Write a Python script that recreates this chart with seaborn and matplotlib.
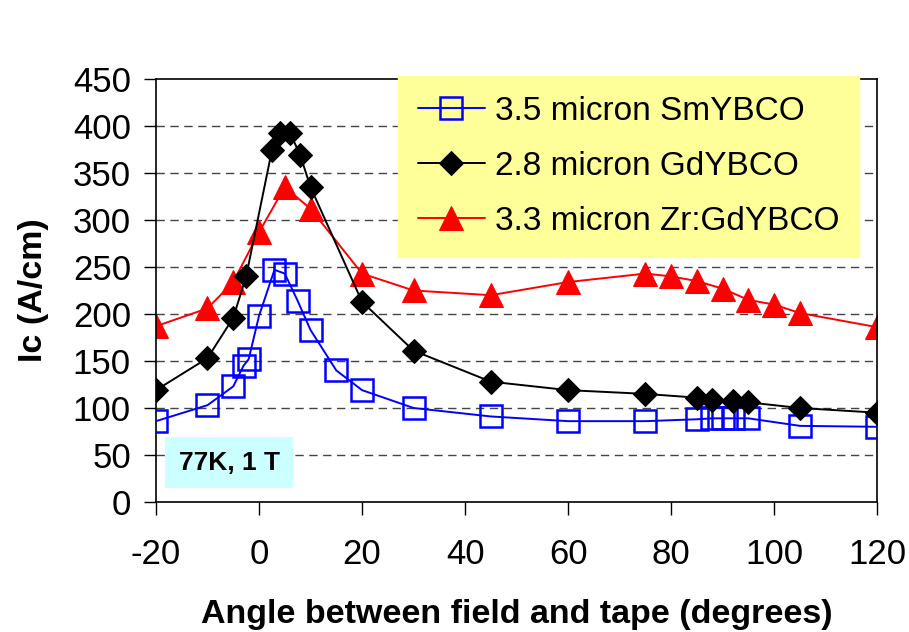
import matplotlib
matplotlib.use("Agg")
import matplotlib.pyplot as plt
import seaborn as sns
import pandas as pd

sns.set_theme(style="white")
plt.rcParams['font.family'] = ['Liberation Sans', 'DejaVu Sans']
plt.rcParams['axes.unicode_minus'] = False
plt.rcParams['text.color'] = 'black'
plt.rcParams['axes.labelcolor'] = 'black'
plt.rcParams['xtick.color'] = 'black'
plt.rcParams['ytick.color'] = 'black'

# Data
sm_angle = [-20, -10, -5, -3, -2, 0, 3, 5, 7.5, 10, 15, 20, 30, 45, 60, 75, 85, 88, 90, 92, 95, 105, 120]
sm_ic    = [86, 103, 123, 145, 152, 198, 247, 243, 214, 183, 140, 119, 100, 91, 86, 86, 88, 89, 89, 89, 89, 81, 80]

gd_angle = [-20, -10, -5, -2.5, 2.5, 4, 6, 8, 10, 20, 30, 45, 60, 75, 85, 88, 92, 95, 105, 120]
gd_ic    = [119, 153, 196, 240, 374, 393, 393, 369, 335, 213, 161, 128, 119, 115, 111, 109, 107, 106, 100, 95]

zr_angle = [-20, -10, -5, 0, 5, 10, 20, 30, 45, 60, 75, 80, 85, 90, 95, 100, 105, 120]
zr_ic    = [187, 206, 234, 287, 335, 312, 243, 225, 220, 234, 243, 240, 235, 227, 215, 210, 201, 186]

labels = ["3.5 micron SmYBCO", "2.8 micron GdYBCO", "3.3 micron Zr:GdYBCO"]
x_ticks = [-20, 0, 20, 40, 60, 80, 100, 120]
y_ticks = [0, 50, 100, 150, 200, 250, 300, 350, 400, 450]

fig = plt.figure(figsize=(9.09, 6.32), dpi=100)
ax = fig.add_axes([0.1716, 0.2057, 0.7934, 0.6693])

for yv in y_ticks[1:-1]:
    ax.axhline(yv, color='#444444', lw=1.0, ls=(0, (6, 4)), zorder=0)

sm = pd.DataFrame({"angle": sm_angle, "ic": sm_ic})
gd = pd.DataFrame({"angle": gd_angle, "ic": gd_ic})
zr = pd.DataFrame({"angle": zr_angle, "ic": zr_ic})

sns.lineplot(data=sm, x="angle", y="ic", ax=ax, sort=False, color='#0000FF', lw=1.4,
             marker='s', markersize=16, markerfacecolor='none', markeredgecolor='#0000FF',
             markeredgewidth=1.8, label=labels[0], zorder=3)
sns.lineplot(data=gd, x="angle", y="ic", ax=ax, sort=False, color='black', lw=1.4,
             marker='D', markersize=12.5, markerfacecolor='black', markeredgecolor='black',
             label=labels[1], zorder=4)
sns.lineplot(data=zr, x="angle", y="ic", ax=ax, sort=False, color='#FF0000', lw=1.4,
             marker='^', markersize=17, markerfacecolor='#FF0000', markeredgecolor='#FF0000',
             label=labels[2], zorder=2)

ax.set_xlim(-20, 120)
ax.set_ylim(0, 450)
ax.set_xticks(x_ticks)
ax.set_yticks(y_ticks)
ax.tick_params(axis='both', labelsize=25, direction='out', length=9, width=1, color='black',
               labelcolor='black', bottom=True, left=True)
ax.tick_params(axis='x', pad=17)
ax.tick_params(axis='y', pad=9)
for s in ax.spines.values():
    s.set_color('black')
    s.set_linewidth(1.2)

ax.set_xlabel("Angle between field and tape (degrees)", fontsize=24.5, fontweight='bold',
              labelpad=20, color='black')
ax.set_ylabel("Ic (A/cm)", fontsize=24.5, fontweight='bold', labelpad=17, color='black')

leg = ax.legend(loc='upper right', bbox_to_anchor=(0.975, 1.007), fontsize=24,
                frameon=True, facecolor='#FFFF99', edgecolor='#FFFF99', framealpha=1,
                fancybox=False, borderpad=0.6, labelspacing=0.72, handlelength=2.0,
                handletextpad=0.3, borderaxespad=0)
leg.set_zorder(6)
for t in leg.get_texts():
    t.set_color('black')

ax.text(-5.8, 42, "77K, 1 T", fontsize=19, fontweight='bold', ha='center', va='center',
        color='black',
        bbox=dict(boxstyle='square,pad=0.5', facecolor='#CCFFFF', edgecolor='none'), zorder=5)

fig.savefig("out.png", dpi=100)
